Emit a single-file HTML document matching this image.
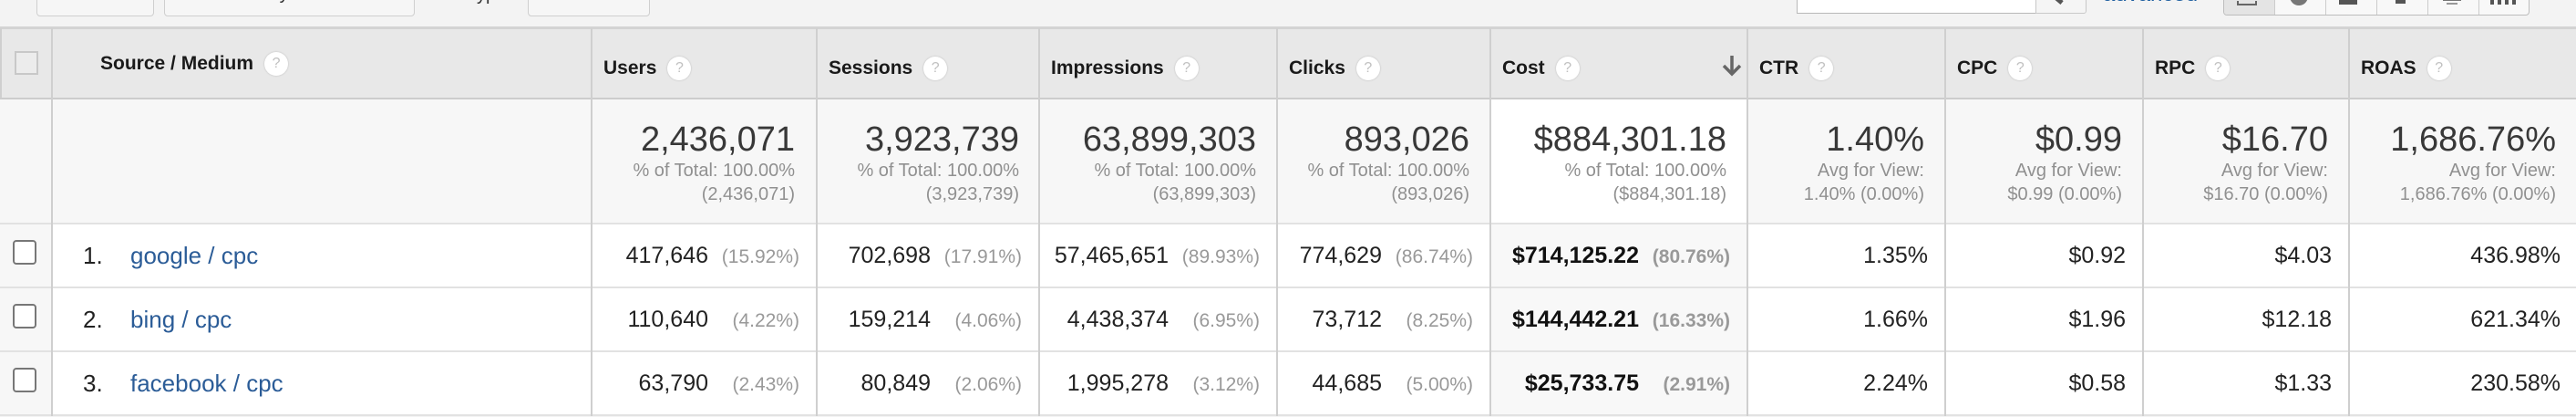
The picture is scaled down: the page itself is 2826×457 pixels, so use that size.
<!DOCTYPE html>
<html><head><meta charset="utf-8">
<style>
*{margin:0;padding:0;box-sizing:border-box}
html,body{width:2826px;height:456px;overflow:hidden;background:#f3f3f3;font-family:"Liberation Sans",Arial,sans-serif}
.a{position:absolute}
.vl{position:absolute;top:31px;height:425px;width:2px;background:#cfcfcf}
.hl{position:absolute;left:0;width:2826px;height:2px;background:#e2e2e2}
.hd{position:absolute;top:60px;line-height:30px;font-weight:bold;font-size:21px;color:#1a1a1a;white-space:nowrap}
.q{display:inline-block;width:26px;height:26px;border-radius:50%;background:#fff;box-shadow:0 0 2px rgba(0,0,0,.2);color:#c0c0c0;font-size:16px;font-weight:normal;line-height:26px;text-align:center;vertical-align:middle;margin-left:12px}
.tc{position:absolute;top:132px;text-align:right;white-space:nowrap}
.big{font-size:38px;line-height:42px;color:#383838}
.sub{font-size:20px;line-height:26px;color:#909090}
.dc{position:absolute;height:70px;line-height:70px;font-size:25px;color:#222;text-align:right;white-space:nowrap;padding-right:19px}
.p{display:inline-block;width:100px;text-align:right;font-size:21px;color:#999}
.b{font-weight:bold;color:#111}
.b .p{font-weight:bold;color:#999}
.cb{position:absolute;left:14px;width:26px;height:27px;border:2px solid #777;border-radius:4px;background:#fff}
.num{position:absolute;left:91px;height:70px;line-height:70px;font-size:26px;color:#222}
.lnk{position:absolute;left:143px;height:70px;line-height:70px;font-size:26px;color:#2b5c97}
.btn{position:absolute;top:-12px;height:30px;border:1px solid #cfcfcf;border-radius:4px;background:#f6f6f6}
</style></head><body>

<!-- top toolbar area -->
<div class="btn" style="left:40px;width:129px"></div>
<div class="btn" style="left:180px;width:275px;overflow:hidden"><div class="a" style="left:40px;top:-6px;font-size:20px;color:#333;line-height:20px">Secondary dimension</div></div>
<div class="a" style="left:470px;top:-16px;font-size:20px;color:#333;line-height:20px">Sort Type:</div>
<div class="btn" style="left:579px;width:134px"></div>
<div class="a" style="left:1971px;top:-12px;width:263px;height:27px;background:#fff;border:1px solid #b8b8b8;border-top:none"></div>
<div class="a" style="left:2233px;top:-12px;width:56px;height:27px;background:#f5f5f5;border:1px solid #c8c8c8;border-radius:0 3px 3px 0"></div>
<div class="a" style="left:2255px;top:-2px;width:8px;height:5px;background:#555;transform:rotate(40deg)"></div>
<div class="a" style="left:2307px;top:-16px;font-size:24px;line-height:20px;color:#1d5ea0">advanced</div>
<div class="a" style="left:2439px;top:-14px;width:336px;height:31px;border:1px solid #bdbdbd;border-radius:4px;background:#f8f8f8;overflow:hidden">
  <div class="a" style="left:0;top:0;width:56px;height:31px;background:#e4e4e4"></div>
  <div class="a" style="left:55px;top:0;width:1px;height:31px;background:#ccc"></div>
  <div class="a" style="left:111px;top:0;width:1px;height:31px;background:#ccc"></div>
  <div class="a" style="left:167px;top:0;width:1px;height:31px;background:#ccc"></div>
  <div class="a" style="left:223px;top:0;width:1px;height:31px;background:#ccc"></div>
  <div class="a" style="left:279px;top:0;width:1px;height:31px;background:#ccc"></div>
  <div class="a" style="left:14px;top:14px;width:22px;height:5px;border:2px solid #666;border-top:none"></div>
  <div class="a" style="left:72px;top:8px;width:20px;height:11px;border-radius:0 0 10px 10px;background:#777"></div>
  <div class="a" style="left:126px;top:13px;width:20px;height:5px;background:#555"></div>
  <div class="a" style="left:188px;top:13px;width:11px;height:4px;background:#555"></div>
  <div class="a" style="left:240px;top:12px;width:20px;height:2px;background:#777"></div>
  <div class="a" style="left:244px;top:16px;width:12px;height:2px;background:#999"></div>
  <div class="a" style="left:292px;top:12px;width:4px;height:6px;background:#555"></div>
  <div class="a" style="left:300px;top:12px;width:4px;height:6px;background:#555"></div>
  <div class="a" style="left:308px;top:10px;width:4px;height:8px;background:#555"></div>
  <div class="a" style="left:316px;top:12px;width:4px;height:6px;background:#555"></div>
</div>

<!-- table backgrounds -->
<div class="a" style="left:0;top:29px;width:2826px;height:3px;background:#d3d3d3"></div>
<div class="a" style="left:0;top:32px;width:2826px;height:75px;background:#e8e8e8"></div>
<div class="a" style="left:0;top:107px;width:2826px;height:2px;background:#cccccc"></div>
<div class="a" style="left:0;top:109px;width:2826px;height:136px;background:#f7f7f7"></div>
<div class="a" style="left:1636px;top:109px;width:281px;height:136px;background:#ffffff"></div>
<div class="a" style="left:0;top:245px;width:2826px;height:211px;background:#ffffff"></div>
<div class="a" style="left:0;top:245px;width:57px;height:211px;background:#f7f7f7"></div>
<div class="a" style="left:1636px;top:245px;width:281px;height:211px;background:#f8f8f8"></div>

<div class="hl" style="top:244px"></div>
<div class="hl" style="top:314px"></div>
<div class="hl" style="top:384px"></div>
<div class="hl" style="top:454px"></div>

<div class="a" style="left:0;top:31px;width:2px;height:77px;background:#cfcfcf"></div>
<div class="vl" style="left:56px"></div>
<div class="vl" style="left:648px"></div>
<div class="vl" style="left:895px"></div>
<div class="vl" style="left:1139px"></div>
<div class="vl" style="left:1400px"></div>
<div class="vl" style="left:1634px"></div>
<div class="vl" style="left:1916px"></div>
<div class="vl" style="left:2133px"></div>
<div class="vl" style="left:2350px"></div>
<div class="vl" style="left:2576px"></div>

<!-- header -->
<div class="a" style="left:16px;top:56px;width:26px;height:26px;border:2px solid #c8c8c8;background:#ececec"></div>
<div class="hd" style="left:110px;top:55px">Source / Medium<span class="q">?</span></div>
<div class="hd" style="left:662px">Users<span class="q">?</span></div>
<div class="hd" style="left:909px">Sessions<span class="q">?</span></div>
<div class="hd" style="left:1153px">Impressions<span class="q">?</span></div>
<div class="hd" style="left:1414px">Clicks<span class="q">?</span></div>
<div class="hd" style="left:1648px">Cost<span class="q">?</span></div>
<svg class="a" style="left:1888px;top:59px" width="24" height="26" viewBox="0 0 24 26">
  <path d="M12 2 V22" stroke="#666" stroke-width="3.5" fill="none"/>
  <path d="M3 13 L12 22 L21 13" stroke="#666" stroke-width="3.5" fill="none"/>
</svg>
<div class="hd" style="left:1930px">CTR<span class="q">?</span></div>
<div class="hd" style="left:2147px">CPC<span class="q">?</span></div>
<div class="hd" style="left:2364px">RPC<span class="q">?</span></div>
<div class="hd" style="left:2590px">ROAS<span class="q">?</span></div>

<!-- totals -->
<div class="tc" style="left:649px;width:247px;padding-right:24px"><div class="big">2,436,071</div><div class="sub">% of Total: 100.00%</div><div class="sub">(2,436,071)</div></div>
<div class="tc" style="left:896px;width:244px;padding-right:22px"><div class="big">3,923,739</div><div class="sub">% of Total: 100.00%</div><div class="sub">(3,923,739)</div></div>
<div class="tc" style="left:1140px;width:261px;padding-right:23px"><div class="big">63,899,303</div><div class="sub">% of Total: 100.00%</div><div class="sub">(63,899,303)</div></div>
<div class="tc" style="left:1401px;width:234px;padding-right:23px"><div class="big">893,026</div><div class="sub">% of Total: 100.00%</div><div class="sub">(893,026)</div></div>
<div class="tc" style="left:1635px;width:282px;padding-right:23px"><div class="big">$884,301.18</div><div class="sub">% of Total: 100.00%</div><div class="sub">($884,301.18)</div></div>
<div class="tc" style="left:1917px;width:217px;padding-right:23px"><div class="big">1.40%</div><div class="sub">Avg for View:</div><div class="sub">1.40% (0.00%)</div></div>
<div class="tc" style="left:2134px;width:217px;padding-right:23px"><div class="big">$0.99</div><div class="sub">Avg for View:</div><div class="sub">$0.99 (0.00%)</div></div>
<div class="tc" style="left:2351px;width:226px;padding-right:23px"><div class="big">$16.70</div><div class="sub">Avg for View:</div><div class="sub">$16.70 (0.00%)</div></div>
<div class="tc" style="left:2577px;width:249px;padding-right:22px"><div class="big">1,686.76%</div><div class="sub">Avg for View:</div><div class="sub">1,686.76% (0.00%)</div></div>

<!-- row 1 -->
<div class="cb" style="top:263px"></div>
<div class="num" style="top:245px">1.</div>
<div class="lnk" style="top:245px">google / cpc</div>
<div class="dc" style="top:245px;left:649px;width:247px">417,646<span class="p">(15.92%)</span></div>
<div class="dc" style="top:245px;left:896px;width:244px">702,698<span class="p">(17.91%)</span></div>
<div class="dc" style="top:245px;left:1140px;width:261px">57,465,651<span class="p">(89.93%)</span></div>
<div class="dc" style="top:245px;left:1401px;width:234px">774,629<span class="p">(86.74%)</span></div>
<div class="dc b" style="top:245px;left:1635px;width:282px">$714,125.22<span class="p">(80.76%)</span></div>
<div class="dc" style="top:245px;left:1917px;width:217px">1.35%</div>
<div class="dc" style="top:245px;left:2134px;width:217px">$0.92</div>
<div class="dc" style="top:245px;left:2351px;width:226px">$4.03</div>
<div class="dc" style="top:245px;left:2577px;width:249px;padding-right:17px">436.98%</div>

<!-- row 2 -->
<div class="cb" style="top:333px"></div>
<div class="num" style="top:315px">2.</div>
<div class="lnk" style="top:315px">bing / cpc</div>
<div class="dc" style="top:315px;left:649px;width:247px">110,640<span class="p">(4.22%)</span></div>
<div class="dc" style="top:315px;left:896px;width:244px">159,214<span class="p">(4.06%)</span></div>
<div class="dc" style="top:315px;left:1140px;width:261px">4,438,374<span class="p">(6.95%)</span></div>
<div class="dc" style="top:315px;left:1401px;width:234px">73,712<span class="p">(8.25%)</span></div>
<div class="dc b" style="top:315px;left:1635px;width:282px">$144,442.21<span class="p">(16.33%)</span></div>
<div class="dc" style="top:315px;left:1917px;width:217px">1.66%</div>
<div class="dc" style="top:315px;left:2134px;width:217px">$1.96</div>
<div class="dc" style="top:315px;left:2351px;width:226px">$12.18</div>
<div class="dc" style="top:315px;left:2577px;width:249px;padding-right:17px">621.34%</div>

<!-- row 3 -->
<div class="cb" style="top:403px"></div>
<div class="num" style="top:385px">3.</div>
<div class="lnk" style="top:385px">facebook / cpc</div>
<div class="dc" style="top:385px;left:649px;width:247px">63,790<span class="p">(2.43%)</span></div>
<div class="dc" style="top:385px;left:896px;width:244px">80,849<span class="p">(2.06%)</span></div>
<div class="dc" style="top:385px;left:1140px;width:261px">1,995,278<span class="p">(3.12%)</span></div>
<div class="dc" style="top:385px;left:1401px;width:234px">44,685<span class="p">(5.00%)</span></div>
<div class="dc b" style="top:385px;left:1635px;width:282px">$25,733.75<span class="p">(2.91%)</span></div>
<div class="dc" style="top:385px;left:1917px;width:217px">2.24%</div>
<div class="dc" style="top:385px;left:2134px;width:217px">$0.58</div>
<div class="dc" style="top:385px;left:2351px;width:226px">$1.33</div>
<div class="dc" style="top:385px;left:2577px;width:249px;padding-right:17px">230.58%</div>

</body></html>
